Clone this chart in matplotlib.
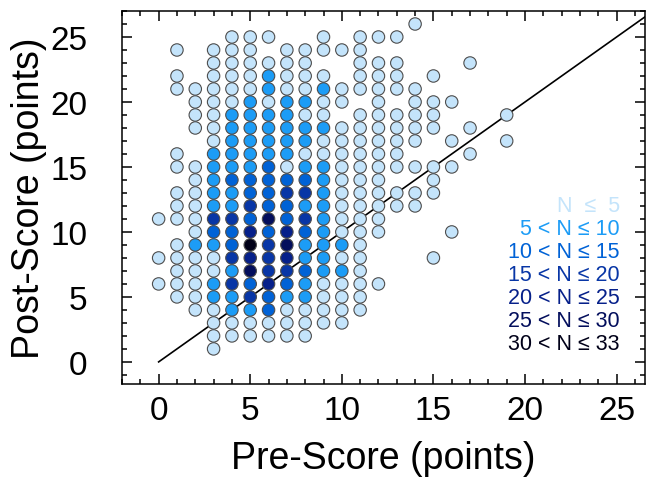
import matplotlib
matplotlib.use("Agg")
import matplotlib.pyplot as plt
from matplotlib.ticker import MultipleLocator

plt.rcParams['font.family'] = ['Liberation Sans', 'DejaVu Sans']

# Post-score rows (26 down to 1); each character = pre-score 0..19,
# '.' = no students, digit = count bin (1: N<=5 ... 7: 30<N<=33)
post_scores = list(range(26, 0, -1))
grid_rows = [
    "..............1.....",  # 26
    "....111..1.111......",  # 25
    ".1.111.11111........",  # 24
    "...111111..111...1..",  # 23
    ".1.1112111.111.1....",  # 22
    ".11111211211111.....",  # 21
    "..111212211.1.111...",  # 20
    "..11222211.11111...1",  # 19
    "..11222222111111.1..",  # 18
    "...122222111111.1..1",  # 17
    ".1.22222111111...1..",  # 16
    ".1122231221111111...",  # 15
    "..12333332111..1....",  # 14
    ".112233442111111....",  # 13
    ".11224332211111.....",  # 12
    "1114436342111.......",  # 11
    "..13353532111...1...",  # 10
    ".12237462221........",  # 9
    "111145452211...1....",  # 8
    ".11126443221........",  # 7
    "1112435321111.......",  # 6
    ".11224322111........",  # 5
    "..1122311111........",  # 4
    "...11111111.........",  # 3
    "...111111...........",  # 2
    "...1................",  # 1
]

bin_labels = ["N  \u2264  5", "5 < N \u2264 10", "10 < N \u2264 15", "15 < N \u2264 20",
              "20 < N \u2264 25", "25 < N \u2264 30", "30 < N \u2264 33"]
bin_colors = ["#c4e4fb", "#1c9cf6", "#0062d6", "#0836a6", "#06208a", "#030e5c", "#000018"]

fig = plt.figure(figsize=(6.46, 4.81), dpi=100)
ax = fig.add_axes([122/646, 96/481, 523/646, 373/481])

# diagonal y = x
ax.plot([0, 30], [0, 30], color='black', lw=1.2, zorder=3)

xs, ys, cs = [], [], []
for post, row in zip(post_scores, grid_rows):
    for pre, ch in enumerate(row):
        if ch != '.':
            xs.append(pre)
            ys.append(post)
            cs.append(bin_colors[int(ch) - 1])
ax.scatter(xs, ys, s=80, c=cs, edgecolors='#4d4d4d', linewidths=0.8, zorder=4)

ax.set_xlim(-2, 26.55)
ax.set_ylim(-1.7, 27.0)
ax.xaxis.set_major_locator(MultipleLocator(5))
ax.xaxis.set_minor_locator(MultipleLocator(1))
ax.yaxis.set_major_locator(MultipleLocator(5))
ax.yaxis.set_minor_locator(MultipleLocator(1))
ax.tick_params(which='both', direction='in', top=True, right=True, width=1.1)
ax.tick_params(which='major', length=7.5, labelsize=24)
ax.tick_params(axis='x', which='major', pad=8)
ax.tick_params(axis='y', which='major', pad=25)
ax.tick_params(which='minor', length=3.8)
for sp in ax.spines.values():
    sp.set_linewidth(1.1)

ax.set_xlabel("Pre-Score (points)", fontsize=27, labelpad=10)
ax.set_ylabel("Post-Score (points)", fontsize=27, labelpad=2)

y0 = (385 - 207) / 373
dy = 22.9 / 373
for i, (lab, col) in enumerate(zip(bin_labels, bin_colors)):
    ax.text(0.952, y0 - i * dy, lab, color=col, fontsize=15.5, ha='right', va='center',
            transform=ax.transAxes)

fig.savefig("out.png", dpi=100)
